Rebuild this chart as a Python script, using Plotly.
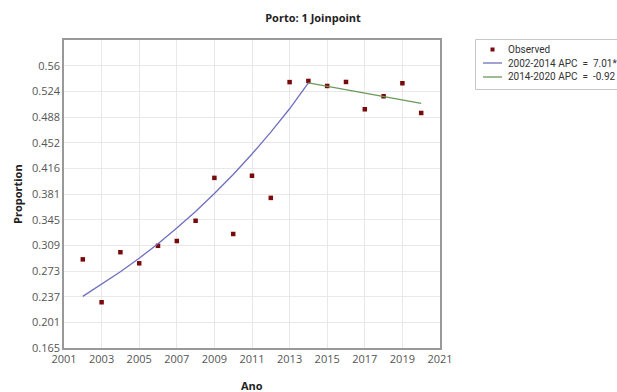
import plotly.graph_objects as go

years = list(range(2002, 2021))
observed = [0.289, 0.229, 0.299, 0.2835, 0.308, 0.3147, 0.343, 0.403, 0.3245,
            0.406, 0.375, 0.537, 0.5386, 0.5316, 0.5372, 0.499, 0.5172, 0.5354, 0.4938]

seg1_years = list(range(2002, 2015))
seg1_fit = [0.2372, 0.2538, 0.2716, 0.2906, 0.3110, 0.3328, 0.3561, 0.3811,
            0.4078, 0.4364, 0.4670, 0.4997, 0.5360]
seg2_years = list(range(2014, 2021))
seg2_fit = [0.5360, 0.5311, 0.5262, 0.5214, 0.5166, 0.5118, 0.5071]

legend_labels = ["Observed", "2002-2014 APC &nbsp;= &nbsp;7.01*", "2014-2020 APC &nbsp;= &nbsp;-0.92"]

y_ticks = [0.165, 0.201, 0.237, 0.273, 0.309, 0.345, 0.381, 0.416, 0.452, 0.488, 0.524, 0.56]
y_tickvals = [0.165 + i * (0.56 - 0.165) / 11 for i in range(12)]
x_ticks = [2001, 2003, 2005, 2007, 2009, 2011, 2013, 2015, 2017, 2019, 2021]

font = "Open Sans, Noto Sans, sans-serif"
legfont = "Roboto, Open Sans, sans-serif"

MARKER_COLOR = "#7a0a0a"
SEG1_COLOR = "#6f6fbf"
SEG2_COLOR = "#6a9a5a"

W, H = 617, 392
ML, MR, MT, MB = 64, 177, 40, 44
plot_w = W - ML - MR
plot_h = H - MT - MB


def px(x):
    return (x - ML) / plot_w


def py(y):
    return (H - MB - y) / plot_h


fig = go.Figure()
fig.add_trace(go.Scatter(x=years, y=observed, mode="markers", name=legend_labels[0],
                         marker=dict(symbol="square", size=4.5, color=MARKER_COLOR)))
fig.add_trace(go.Scatter(x=seg1_years, y=seg1_fit, mode="lines", name=legend_labels[1],
                         line=dict(color=SEG1_COLOR, width=1.3)))
fig.add_trace(go.Scatter(x=seg2_years, y=seg2_fit, mode="lines", name=legend_labels[2],
                         line=dict(color=SEG2_COLOR, width=1.3)))

# manual legend (box, symbols, labels)
shapes = [
    dict(type="rect", xref="paper", yref="paper", x0=px(475.5), x1=px(618), y0=py(89.5), y1=py(39.5),
         line=dict(color="#c8c8c8", width=1), fillcolor="white", layer="above"),
    dict(type="rect", xref="paper", yref="paper", x0=px(490.5), x1=px(494.5), y0=py(51.5), y1=py(47.5),
         line=dict(width=0), fillcolor=MARKER_COLOR, layer="above"),
    dict(type="line", xref="paper", yref="paper", x0=px(483), x1=px(502), y0=py(63), y1=py(63),
         line=dict(color=SEG1_COLOR, width=1.3), layer="above"),
    dict(type="line", xref="paper", yref="paper", x0=px(483), x1=px(502), y0=py(77), y1=py(77),
         line=dict(color=SEG2_COLOR, width=1.3), layer="above"),
]
annotations = [
    dict(text="<b>Ano</b>", x=0.5, xref="paper", y=py(385), yref="paper", yanchor="middle",
         showarrow=False, font=dict(size=11, color="#222")),
    dict(text="<b>Proportion</b>", x=px(17), xref="paper", xanchor="center",
         y=0.5, yref="paper", yanchor="middle", showarrow=False, textangle=-90,
         font=dict(size=11, color="#222")),
]
for lbl, yy in zip(legend_labels, [49.5, 63, 77]):
    annotations.append(dict(text=lbl, x=px(506), xref="paper", xanchor="left",
                            y=py(yy), yref="paper", yanchor="middle", showarrow=False,
                            font=dict(family=legfont, size=10, color="#333")))

fig.update_layout(
    width=W, height=H,
    margin=dict(l=ML, r=MR, t=MT, b=MB, autoexpand=False),
    paper_bgcolor="white", plot_bgcolor="white",
    font=dict(family=font, size=11, color="#444"),
    title=dict(text="<b>Porto: 1 Joinpoint</b>", x=313 / W, xanchor="center",
               y=1 - 18 / H, yanchor="middle", font=dict(size=11, color="#222")),
    showlegend=False,
    shapes=shapes,
    annotations=annotations,
)

fig.update_xaxes(range=[2001, 2021], tickvals=x_ticks, ticktext=[str(v) for v in x_ticks],
                 showgrid=True, gridcolor="#e8e8e8", gridwidth=1,
                 showline=True, linecolor="#999", linewidth=1.5, mirror=True,
                 ticks="", zeroline=False, automargin=False,
                 tickfont=dict(size=11, color="#555"))
fig.update_yaxes(range=[0.165, 0.165 + 12 * (0.56 - 0.165) / 11], tickvals=y_tickvals,
                 ticktext=[str(v) for v in y_ticks],
                 showgrid=True, gridcolor="#e8e8e8", gridwidth=1,
                 showline=True, linecolor="#999", linewidth=1.5, mirror=True,
                 ticks="", zeroline=False, automargin=False,
                 tickfont=dict(size=11, color="#555"))

fig.write_html("out.html", config={"displayModeBar": False},
               post_script="document.body.style.margin='0';")
